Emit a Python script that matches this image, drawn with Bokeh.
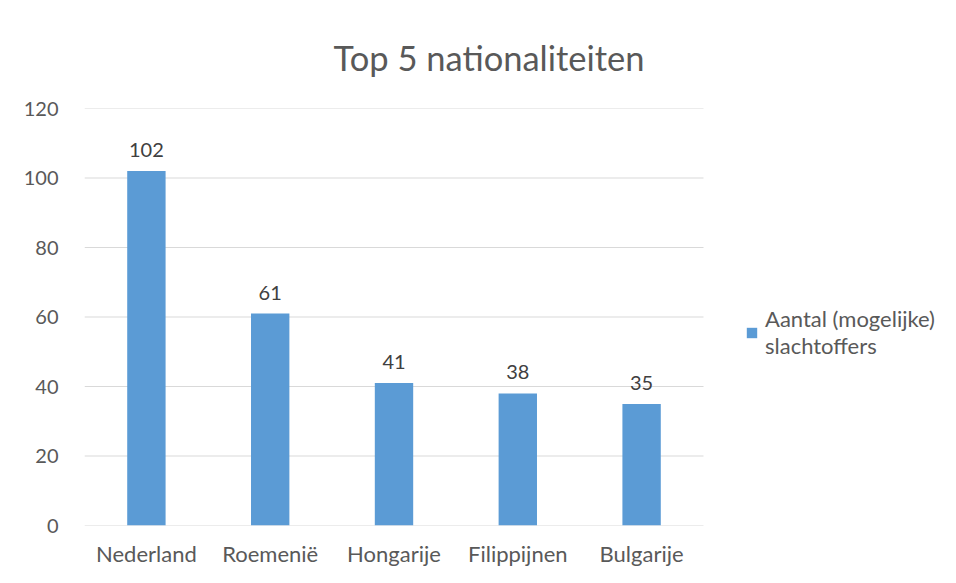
from bokeh.plotting import figure
from bokeh.models import (ColumnDataSource, LabelSet, Legend, LegendItem, Range1d,
                          FixedTicker, Title)
from bokeh.core.properties import value
from bokeh.embed import file_html
from bokeh.resources import INLINE

categories = ["Nederland", "Roemenië", "Hongarije", "Filippijnen", "Bulgarije"]
values = [102, 61, 41, 38, 35]
y_ticks = [0, 20, 40, 60, 80, 100, 120]
series_name = "Aantal (mogelijke)\nslachtoffers"

FONT = "Lato"
TXT = "#595959"

W, H = 948, 569
n = len(categories)
xpos = [i + 0.5 for i in range(n)]
src = ColumnDataSource(dict(x=xpos, val=values, lbl=[str(v) for v in values]))

# plot area covers the 5 categories (619 px); the rest of the frame holds the legend
frame_w = W - 84
x_end = n * frame_w / 619.0

p = figure(x_range=Range1d(0, x_end), y_range=Range1d(0, 120), width=W, height=H,
           output_backend="svg", toolbar_location=None,
           min_border_left=84, min_border_right=0, min_border_top=108, min_border_bottom=43)

t = Title(text="Top 5 nationaliteiten", align="left", offset=249, standoff=61,
          text_font=FONT, text_font_size="34.5px", text_color=TXT, text_font_style="normal")
p.add_layout(t, "above")

# horizontal gridlines at the y ticks, across the category area
p.segment(x0=[0] * len(y_ticks), x1=[n] * len(y_ticks), y0=y_ticks, y1=y_ticks,
          line_color="#D9D9D9", line_width=1)

r = p.vbar(x="x", top="val", width=0.31, source=src, fill_color="#5B9BD5", line_color=None)

labels = LabelSet(x="x", y="val", text="lbl", source=src, y_offset=14,
                  text_align="center", text_baseline="bottom",
                  text_font_size="20px", text_color="#404040", text_font=value(FONT))
p.add_layout(labels)

p.yaxis.ticker = FixedTicker(ticks=y_ticks)
p.yaxis.axis_line_color = None
p.yaxis.major_tick_line_color = None
p.yaxis.minor_tick_line_color = None
p.yaxis.major_label_standoff = 20

p.xaxis.ticker = FixedTicker(ticks=xpos)
p.xaxis.major_label_overrides = {x: c for x, c in zip(xpos, categories)}
p.xaxis.axis_line_color = None
p.xaxis.major_tick_line_color = None
p.xaxis.minor_tick_line_color = None
p.xaxis.major_label_standoff = 8
for ax in (p.xaxis, p.yaxis):
    ax.major_label_text_font = FONT
    ax.major_label_text_color = TXT
p.yaxis.major_label_text_font_size = "20px"
p.xaxis.major_label_text_font_size = "22px"

p.xgrid.grid_line_color = None
p.ygrid.grid_line_color = None
p.outline_line_color = None

legend = Legend(items=[LegendItem(label=series_name, renderers=[r])], location=(661, 166),
                padding=0, margin=0, border_line_alpha=0, background_fill_alpha=0,
                glyph_width=13, glyph_height=13, label_standoff=7,
                label_text_font=FONT, label_text_font_size="22px", label_text_color=TXT)
p.add_layout(legend, "center")

open("out.html", "w").write(file_html(p, INLINE))
